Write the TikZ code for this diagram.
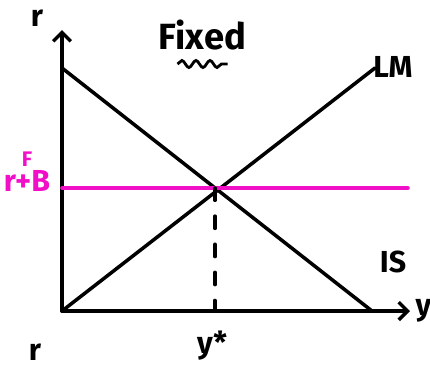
\documentclass[tikz,border=0pt]{standalone}
\usepackage{fontspec}
\setmainfont{Fira Sans}
\usetikzlibrary{positioning, arrows.meta, decorations.pathmorphing}
\definecolor{hotpink}{HTML}{F20FC8}

\begin{document}
\begin{tikzpicture}[
    curve/.style={line width=2pt, line cap=round},
    axis/.style={curve, -{Straight Barb[length=5pt, width=10pt]}},
    label/.style={font=\LARGE\bfseries, inner sep=1pt}
]
    \useasboundingbox (0,0) rectangle (8.6,7.32);

    \coordinate (O) at (1.24,1.10);
    \coordinate (ytop) at (1.24,6.72);
    \coordinate (xend) at (8.2,1.10);
    \coordinate (ISa) at (1.24,5.96);
    \coordinate (ISb) at (7.44,1.10);
    \coordinate (LMb) at (7.5,5.96);
    \coordinate (Ea) at (1.24,3.56);
    \coordinate (Eb) at (8.16,3.56);
    \coordinate (E) at (4.30,3.56);
    \coordinate (Ex) at (4.30,1.10);

    \draw[axis] (O) -- (ytop);
    \draw[axis] (O) -- (xend);
    \draw[curve] (ISa) -- (ISb);
    \draw[curve] (O) -- (LMb);
    \draw[curve, hotpink] (Ea) -- (Eb);
    \draw[curve, dash pattern=on 7pt off 9pt] (E) -- (Ex);

    \node[label] (rtop) at (0.74,6.96) {r};
    \node[label, font=\huge\bfseries] (fixed) at (4.05,6.62) {Fixed};
    \draw[line width=1.6pt, decorate, decoration={snake, amplitude=2pt, segment length=8pt}]
        (3.55,6.04) -- (4.55,6.04);
    \node[label] (LM) at (7.86,5.98) {LM};
    \node[label] (IS) at (7.86,2.08) {IS};
    \node[label, right=2pt of xend] (y) {y};
    \node[label] (ystar) at (4.24,0.40) {y*};
    \node[label] (rbot) at (0.70,0.28) {r};
    \node[label, hotpink, font=\large\bfseries] (F) at (0.54,4.14) {F};
    \node[label, hotpink, below=0pt of F] (rB) {r+B};
\end{tikzpicture}
\end{document}
